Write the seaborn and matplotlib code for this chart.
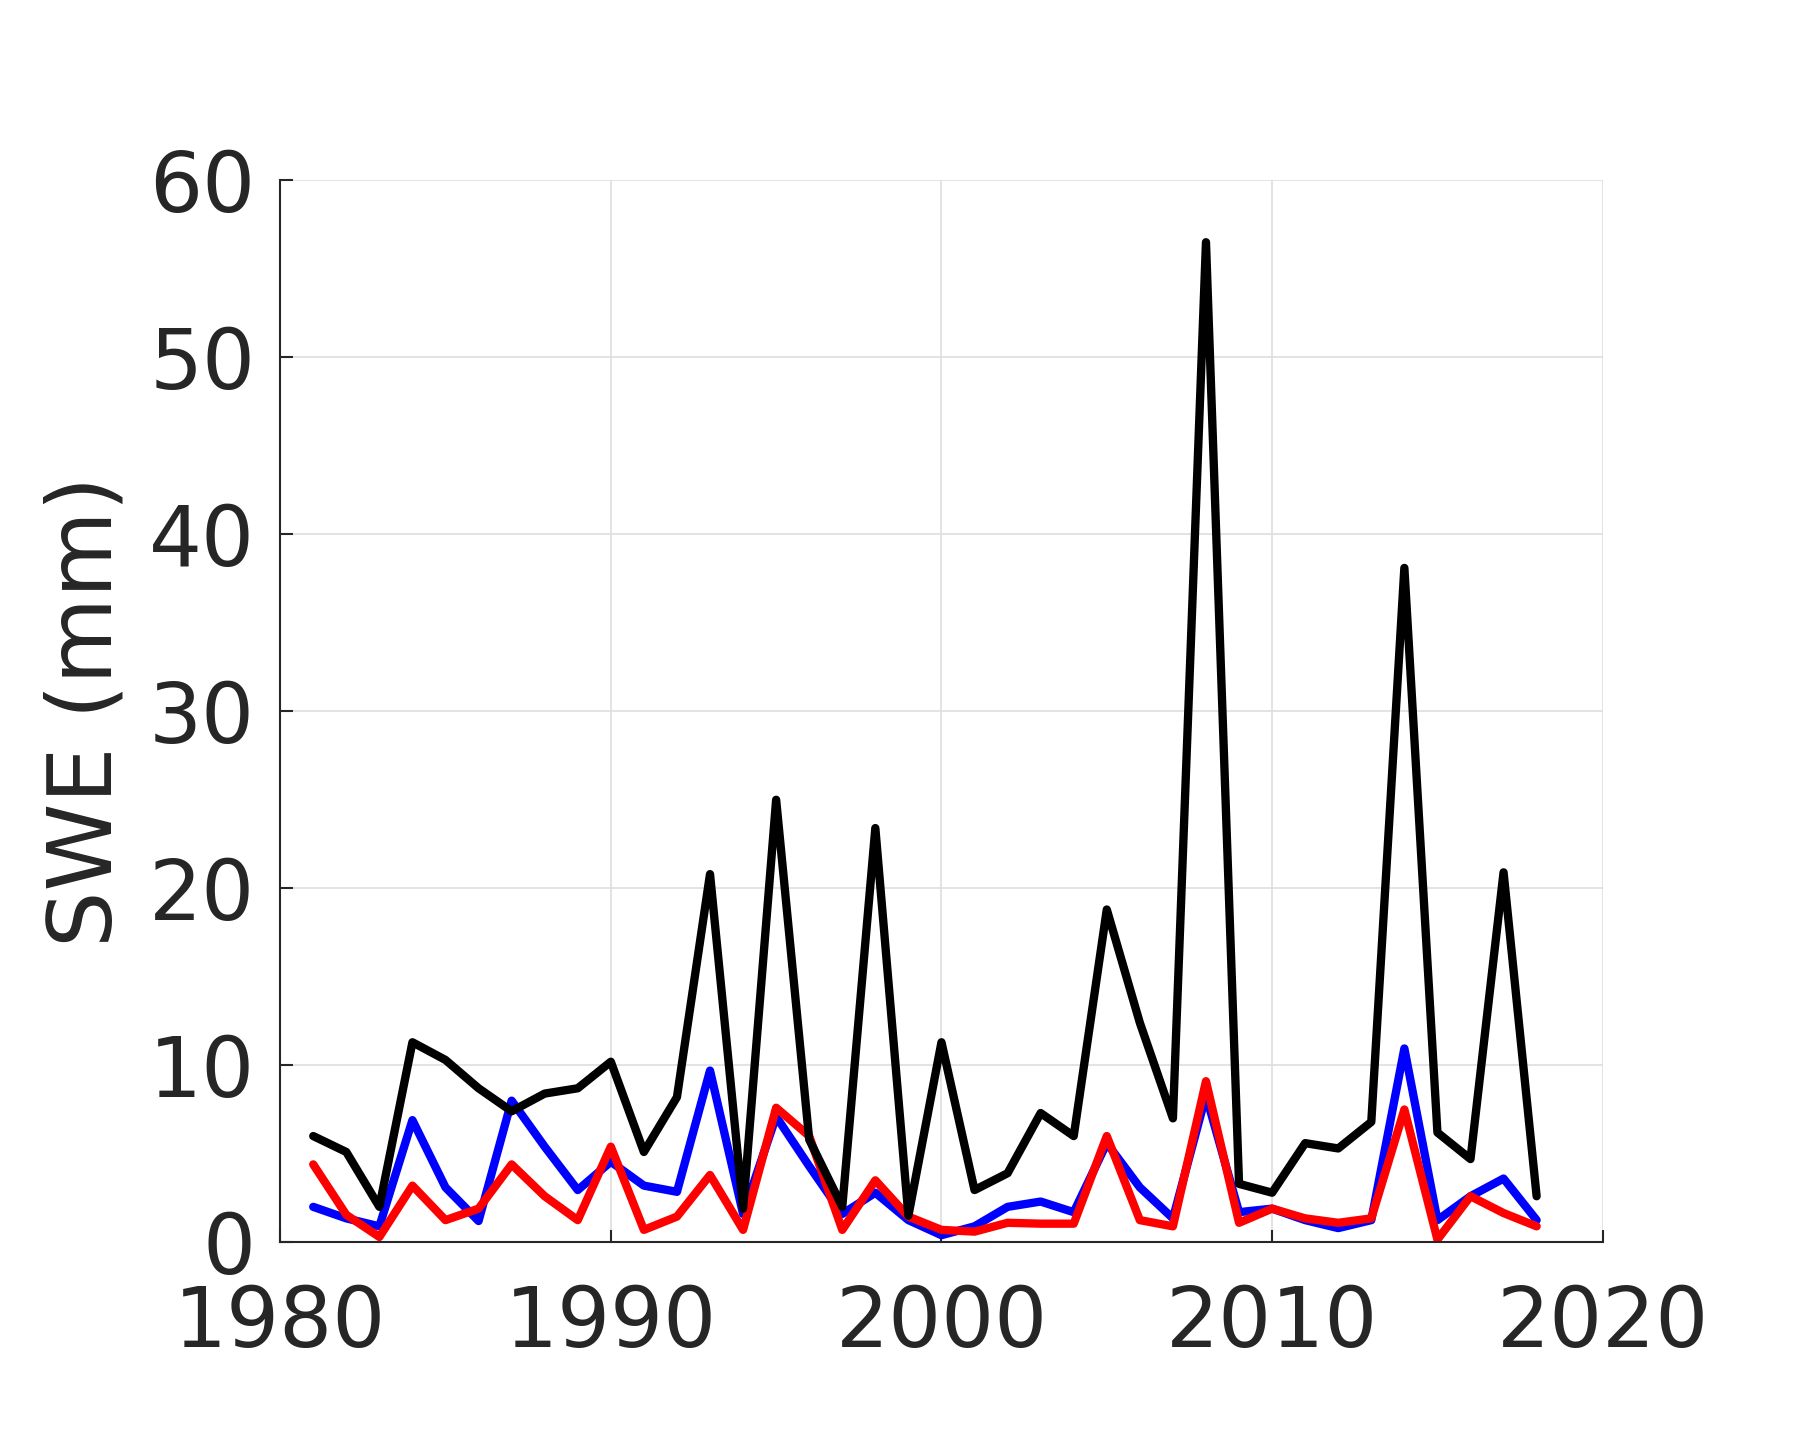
import numpy as np
import pandas as pd
import seaborn as sns
from matplotlib import pyplot as plt

years = list(range(1981, 2019))

# black series
swe_black = [6.0, 5.1, 2.0, 11.3, 10.3, 8.7, 7.4, 8.4, 8.7, 10.2,
             5.1, 8.2, 20.8, 1.9, 25.0, 5.8, 2.0, 23.4, 1.5, 11.3,
             2.95, 3.9, 7.3, 6.0, 18.8, 12.4, 7.0, 56.5, 3.3, 2.8,
             5.6, 5.3, 6.8, 38.1, 6.2, 4.7, 20.9, 2.6]

# blue series
swe_blue = [2.0, 1.35, 0.9, 6.9, 3.1, 1.2, 8.0, 5.4, 2.95, 4.55,
            3.2, 2.85, 9.7, 1.6, 7.1, 4.3, 1.6, 2.8, 1.25, 0.4,
            0.9, 2.0, 2.3, 1.7, 5.6, 3.1, 1.35, 8.3, 1.7, 1.9,
            1.25, 0.8, 1.25, 10.95, 1.25, 2.6, 3.6, 1.25]

# red series
swe_red = [4.4, 1.55, 0.3, 3.2, 1.25, 1.9, 4.4, 2.6, 1.25, 5.4,
           0.7, 1.45, 3.8, 0.7, 7.6, 6.0, 0.7, 3.5, 1.45, 0.7,
           0.6, 1.1, 1.05, 1.05, 6.0, 1.25, 0.9, 9.1, 1.1, 1.9,
           1.35, 1.1, 1.35, 7.5, 0.15, 2.6, 1.65, 0.9]

df = pd.DataFrame({"year": years, "black": swe_black, "blue": swe_blue, "red": swe_red})

sns.set_theme(style="white")
plt.rcParams["font.family"] = ["DejaVu Sans"]
text_color = "#262626"

fig = plt.figure(figsize=(17.96, 14.32), dpi=100)
ax = fig.add_axes([0.156, 0.1325, 0.7364, 0.7416])

lw = 6.0
sns.lineplot(data=df, x="year", y="blue", color="#0000ff", lw=lw, ax=ax)
sns.lineplot(data=df, x="year", y="red", color="#ff0000", lw=lw, ax=ax)
sns.lineplot(data=df, x="year", y="black", color="#000000", lw=lw, ax=ax)

ax.set_xlim(1980, 2020)
ax.set_ylim(0, 60)
ax.set_xticks([1980, 1990, 2000, 2010, 2020])
ax.set_yticks([0, 10, 20, 30, 40, 50, 60])
ax.set_xlabel("")
ax.set_ylabel("SWE (mm)", fontsize=64, color=text_color, labelpad=13)

ax.grid(True, color="#dedede", lw=1.2)
ax.set_axisbelow(True)
for side in ["top", "right"]:
    ax.spines[side].set_visible(False)
for side in ["left", "bottom"]:
    ax.spines[side].set_color("#262626")
    ax.spines[side].set_linewidth(1.5)

ax.tick_params(axis="both", direction="in", length=9, width=1.5, color="#262626",
               labelsize=60, labelcolor=text_color, left=True, bottom=True)
ax.tick_params(axis="x", pad=29)
ax.tick_params(axis="y", pad=18)

fig.savefig("out.png", dpi=100)
